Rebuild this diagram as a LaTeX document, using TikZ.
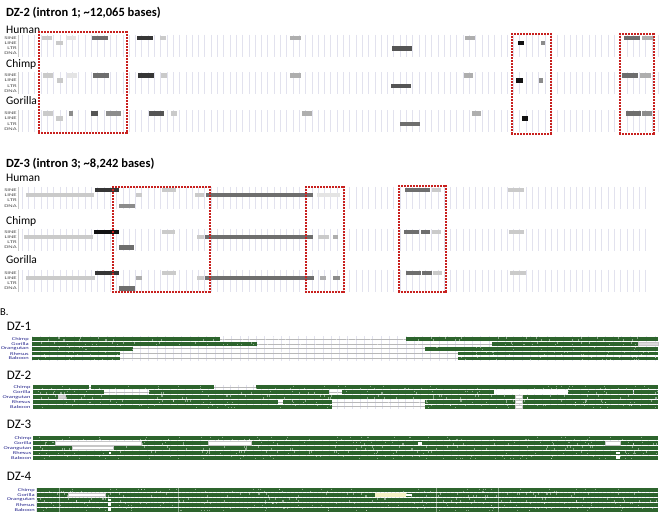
\documentclass[tikz,border=0pt]{standalone}
\usepackage{fontspec}
\setmainfont{Carlito}
\usetikzlibrary{positioning}

\definecolor{boxred}{HTML}{C8201E}
\definecolor{gridlav}{HTML}{E2E2EE}
\definecolor{consgreen}{HTML}{2D642D}
\definecolor{spblue}{HTML}{26268C}
\definecolor{trkgray}{HTML}{4A4A4A}
\definecolor{paleyel}{HTML}{F4F1C4}
\definecolor{rpA}{HTML}{E4E4E4}
\definecolor{rpB}{HTML}{CACACA}
\definecolor{rpC}{HTML}{AEAEAE}
\definecolor{rpD}{HTML}{8C8C8C}
\definecolor{rpE}{HTML}{6E6E6E}
\definecolor{rpG}{HTML}{555555}
\definecolor{rpF}{HTML}{363636}
\definecolor{rpK}{HTML}{121212}

% one repeat element: x from, x to, track row, shade
\newcommand{\repbar}[4]{\fill[#4] (#1,#3-2.2) rectangle (#2,#3+2.2);}

% dotted highlight frame, pixel aligned squares: x1, y1, x2, y2 (whole numbers)
\newcommand{\dotrect}[4]{%
  \pgfmathtruncatemacro\nx{(#3-#1)/3}%
  \pgfmathtruncatemacro\ny{(#4-#2)/3}%
  \foreach \i in {0,...,\nx}{
    \fill[boxred] ({#1+3*\i-1},{#2-1}) rectangle ++(2,2);
    \fill[boxred] ({#1+3*\i-1},{#4-1}) rectangle ++(2,2);
  }
  \foreach \i in {0,...,\ny}{
    \fill[boxred] ({#1-1},{#2+3*\i-1}) rectangle ++(2,2);
    \fill[boxred] ({#3-1},{#2+3*\i-1}) rectangle ++(2,2);
  }
  \fill[boxred] ({#3-1},{#4-1}) rectangle ++(2,2);
}

\begin{document}
\begin{tikzpicture}[x=1pt, y=-1pt,
  dztitle/.style={anchor=base west, inner sep=0pt, font=\fontsize{12.5}{14}\selectfont\bfseries},
  spname/.style={anchor=base west, inner sep=0pt, font=\fontsize{11.5}{13}\selectfont},
  dzname/.style={anchor=base west, inner sep=0pt, font=\fontsize{13}{15}\selectfont},
  trklab/.style={anchor=east, inner sep=0pt, text=trkgray, font=\fontsize{4.2}{4.2}\selectfont, xscale=1.6},
  cslab/.style={anchor=east, inner sep=0pt, text=spblue, font=\fontsize{4.3}{4.3}\selectfont, xscale=1.5},
  gridln/.style={gridlav, line width=0.5pt},
  cons/.style={fill=consgreen},
  gapbox/.style={fill=white, draw=black!22, line width=0.35pt},
  speck/.style={white, opacity=0.45, line width=0.35pt}]

\useasboundingbox (0,0) rectangle (670,522);

% ---------------- A: repeat tracks ----------------
\node[dztitle] (t2) at (6,16.7) {DZ-2 (intron 1; \textasciitilde12,065 bases)};
\node[dztitle] (t3) at (6,167.3) {DZ-3 (intron 3; \textasciitilde8,242 bases)};

\node[spname] (hum2) at (6,33.3) {Human};
\node[spname] (chi2) at (6,67.5) {Chimp};
\node[spname] (gor2) at (6,104) {Gorilla};
\node[spname] (hum3) at (6,181.7) {Human};
\node[spname] (chi3) at (6,224) {Chimp};
\node[spname] (gor3) at (6,263.3) {Gorilla};

% grid of each track block
\foreach \ya/\yb/\xb in {34.5/56.5/660, 72/94/660, 110/132/660, 186.5/208.5/648, 228.5/250.5/648, 269.5/291.5/648}{
  \foreach \gx in {22,28.3,...,\xb} \draw[gridln] (\gx,\ya) -- (\gx,\yb);
  \draw[black!22, line width=0.4pt] (18.5,\ya) -- (18.5,\yb);
}

% track labels
\foreach \yy/\nm in {37.7/hu2, 75.3/ch2, 113.3/go2, 189.8/hu3, 231.7/ch3, 272.7/go3}
  \foreach \tk [count=\k from 0] in {SINE,LINE,LTR,DNA}
    \node[trklab] (\nm-\tk) at (17,{\yy+5.3*\k}) {\tk};

% DZ-2 Human
\repbar{41.7}{51.7}{37.7}{rpB}
\repbar{56}{62.7}{43}{rpB}
\repbar{66}{76}{37.7}{rpA}
\repbar{91.7}{108.3}{37.7}{rpE}
\repbar{136.7}{153.3}{37.7}{rpF}
\repbar{160}{166}{37.7}{rpB}
\repbar{290}{301}{37.7}{rpC}
\repbar{392.3}{412.3}{48.3}{rpG}
\repbar{465}{475}{37.7}{rpC}
\repbar{517.7}{524}{43}{rpK}
\repbar{541}{545}{43}{rpD}
\repbar{623.7}{640.3}{37.7}{rpE}
\repbar{642.3}{653.7}{37.7}{rpC}
% DZ-2 Chimp
\repbar{43.3}{52.7}{75.3}{rpB}
\repbar{57.3}{63.3}{80.6}{rpB}
\repbar{66.7}{76.7}{75.3}{rpA}
\repbar{92.7}{109.3}{75.3}{rpE}
\repbar{137.7}{154}{75.3}{rpF}
\repbar{160.7}{166.7}{75.3}{rpB}
\repbar{290}{300.7}{75.3}{rpC}
\repbar{391}{411}{85.9}{rpG}
\repbar{463.7}{473.3}{75.3}{rpC}
\repbar{516}{522.7}{80.6}{rpK}
\repbar{539}{543.3}{80.6}{rpD}
\repbar{621.7}{638.3}{75.3}{rpE}
\repbar{640}{651}{75.3}{rpC}
% DZ-2 Gorilla
\repbar{43.3}{53.3}{113.3}{rpB}
\repbar{56}{62.7}{118.6}{rpB}
\repbar{68.7}{73.3}{113.3}{rpD}
\repbar{91}{97.7}{113.3}{rpG}
\repbar{105.7}{120.7}{113.3}{rpD}
\repbar{149}{164.3}{113.3}{rpG}
\repbar{171.3}{177.3}{113.3}{rpB}
\repbar{301.7}{311.7}{113.3}{rpC}
\repbar{400.3}{420.3}{123.9}{rpE}
\repbar{471.7}{481}{113.3}{rpC}
\repbar{521.7}{527.7}{118.6}{rpK}
\repbar{626}{641}{113.3}{rpE}
\repbar{641.7}{651.7}{113.3}{rpD}

% DZ-3 Human
\repbar{26}{94}{195.1}{rpB}
\repbar{94.7}{119.3}{189.8}{rpF}
\repbar{119.3}{135}{205.7}{rpD}
\repbar{136}{142.3}{195.1}{rpB}
\repbar{162.3}{176}{189.8}{rpB}
\repbar{195}{204}{195.1}{rpB}
\repbar{206}{312.7}{195.1}{rpE}
\repbar{316.7}{340}{195.1}{rpA}
\repbar{405}{430}{189.8}{rpE}
\repbar{431.7}{441}{189.8}{rpB}
\repbar{508.3}{524}{189.8}{rpB}
% DZ-3 Chimp
\repbar{24}{93.3}{237}{rpB}
\repbar{94}{119}{231.7}{rpK}
\repbar{119}{134}{247.6}{rpE}
\repbar{162.3}{175}{231.7}{rpB}
\repbar{196.7}{204}{237}{rpB}
\repbar{205}{312.7}{237}{rpE}
\repbar{317.7}{329.3}{237}{rpB}
\repbar{333.3}{338.3}{237}{rpC}
\repbar{404.3}{419}{231.7}{rpE}
\repbar{421}{430}{231.7}{rpE}
\repbar{432.3}{441}{231.7}{rpB}
\repbar{509}{524.3}{231.7}{rpB}
% DZ-3 Gorilla
\repbar{26}{95}{278}{rpB}
\repbar{95.3}{119.3}{272.7}{rpF}
\repbar{119.3}{135}{288.6}{rpE}
\repbar{136}{142.3}{278}{rpC}
\repbar{162.3}{176}{272.7}{rpB}
\repbar{197.3}{204}{278}{rpB}
\repbar{205.3}{314.3}{278}{rpE}
\repbar{320}{326}{278}{rpC}
\repbar{333.3}{340}{278}{rpD}
\repbar{406}{420.7}{272.7}{rpE}
\repbar{422}{431.7}{272.7}{rpE}
\repbar{433.3}{442.3}{272.7}{rpB}
\repbar{510}{525.7}{272.7}{rpB}

% highlighted regions
\dotrect{39}{32}{127}{133}
\dotrect{512}{34}{551}{134}
\dotrect{620}{34}{654}{134}
\dotrect{113}{187}{210}{292}
\dotrect{306}{187}{344}{292}
\dotrect{399}{186}{446}{292}

% ---------------- B: conservation ----------------
\node[anchor=base west, inner sep=0pt, font=\fontsize{10.5}{12}\selectfont] (partb) at (0,315) {B.};
\node[dzname] (dz1) at (6.7,330.7) {DZ-1};
\node[dzname] (dz2) at (6.7,379) {DZ-2};
\node[dzname] (dz3) at (6.7,428.3) {DZ-3};
\node[dzname] (dz4) at (6.7,480) {DZ-4};

\foreach \yy/\nm/\lx in {339/d1/29, 387.3/d2/30.7, 438.3/d3/31.7, 490.2/d4/35}
  \foreach \sp [count=\k from 0] in {Chimp,Gorilla,Orangutan,Rhesus,Baboon}
    \node[cslab] (\nm-\sp) at (\lx,{\yy+4.85*\k}) {\sp};

% background grid and empty lines
\foreach \yy/\xa in {339/32.3, 387.3/33, 438.3/33, 490.2/36.7}{
  \foreach \gx in {\xa,40.6,...,658} \draw[gridln] (\gx,\yy-2.6) -- (\gx,\yy+22);
  \foreach \k in {0,...,4} \draw[black!28, line width=0.6pt] (\xa,{\yy+4.85*\k}) -- (658.3,{\yy+4.85*\k});
}

% aligned blocks
\foreach \yy/\segs in {339/{32.3/220,405.7/658.3}, 343.85/{32.3/256.7,491.7/638.3},
    348.7/{32.3/133.3,425/658.3}, 353.55/{32.3/120,458.3/658.3}, 358.4/{32.3/120,458.3/658.3},
    387.3/{33/89.3,90.7/214,256/658.3}, 392.15/{33/104,149.3/329.3,342.3/494,567.7/632.7,634/658.3},
    397/{33/58.3,65/515,521.7/658.3}, 401.85/{33/278.3,282.7/331.7,425/515,521.7/658.3},
    406.7/{33/331.7,425/515,521.7/658.3},
    438.3/{33/658.3}, 443.15/{33/658.3}, 448/{33/658.3}, 452.85/{33/658.3}, 457.7/{33/658.3},
    490.2/{36.7/658.3}, 495.05/{36.7/658.3}, 499.9/{36.7/658.3}, 504.75/{36.7/658.3}, 509.6/{36.7/658.3}}
  \foreach \xa/\xb in \segs \fill[cons] (\xa,\yy-1.9) rectangle (\xb,\yy+1.9);

% mismatch speckles
\pgfmathsetseed{12}
\foreach \yy in {339,343.85,348.7,353.55,358.4,387.3,392.15,397,401.85,406.7,
    438.3,443.15,448,452.85,457.7,490.2,495.05,499.9,504.75,509.6}
  \foreach \i in {1,...,55}{
    \pgfmathsetmacro\sx{34+624*rnd}
    \pgfmathsetmacro\sy{rnd<0.5 ? -1.6 : 0.3}
    \draw[speck] (\sx,\yy+\sy) -- ++(0,1.3);
  }
\foreach \gx in {59.3,178.3,436.7,498.3}
  \draw[white, opacity=0.45, line width=0.5pt] (\gx,487.8) -- (\gx,512);

% gaps in the alignment
\fill[gapbox, fill=black!14] (638.3,342.3) rectangle (658.3,345.4);
\fill[white] (494,390.3) rectangle (567.7,394);
\draw[gapbox, fill=black!18] (58.3,395.4) rectangle (65,398.6);
\foreach \yy in {397,401.85,406.7}
  \draw[gapbox] (515,\yy-1.5) rectangle (521.7,\yy+1.5);
\draw[gapbox] (55,441.6) rectangle (140.7,444.7);
\draw[gapbox] (208.3,441.6) rectangle (250.7,444.7);
\draw[gapbox] (605,441.6) rectangle (620,444.7);
\fill[white] (418.3,441.8) rectangle (422.3,444.5);
\draw[gapbox] (71.7,446.5) rectangle (112.7,449.6);
\fill[white] (109,451.5) rectangle (111,454.2);
\fill[white] (616,451.5) rectangle (620,454.2);
\fill[white] (616,456.3) rectangle (620,459);
\draw[gapbox] (68.3,493.5) rectangle (105,496.6);
\fill[paleyel] (375,493.3) rectangle (405.7,496.8);
\fill[white] (405.7,493.8) rectangle (412,496.2);
\foreach \yy in {499.9,504.75,509.6}
  \fill[white] (108.3,\yy-1.4) rectangle (111,\yy+1.4);

\end{tikzpicture}
\end{document}
